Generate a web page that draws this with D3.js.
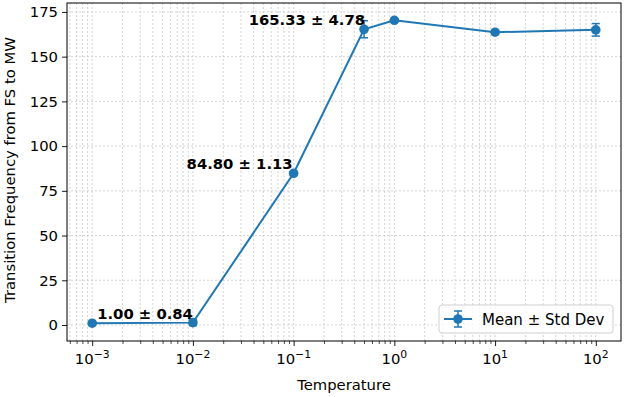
<!DOCTYPE html>
<html><head><meta charset="utf-8">
<script src="https://cdn.jsdelivr.net/npm/d3@7"></script>
<style>body{margin:0;background:#fff;} text{font-family:"DejaVu Sans",sans-serif;}</style>
</head><body>
<svg id="c" width="624" height="397"></svg>
<script>
const temperatures = [0.001, 0.01, 0.1, 0.5, 1, 10, 100];
const means = [1.00, 1.33, 84.80, 165.33, 170.33, 163.67, 165.00];
const stds = [0.84, 1.67, 1.13, 4.78, 0.94, 1.20, 3.50];
const annotatedIdx = [0, 2, 3];
const xTickExps = [-3, -2, -1, 0, 1, 2];
const yTicks = [0, 25, 50, 75, 100, 125, 150, 175];

const color = "#1f77b4";
const FS = 14.8;
const svg = d3.select("#c");
const L = 67, R = 621, T = 3, B = 341;
const x = d3.scaleLog().domain([Math.pow(10, -3.25), Math.pow(10, 2.25)]).range([L, R]);
const y = d3.scaleLinear().domain([-8.94, 180]).range([B, T]);

// grid
const minor = [];
for (let e = -4; e <= 2; e++) for (let m = 2; m <= 9; m++) { const v = m * Math.pow(10, e); if (v > x.domain()[0] && v < x.domain()[1]) minor.push(v); }
const majors = xTickExps.map(e => Math.pow(10, e));
const g = svg.append("g");
g.selectAll(".gx").data(majors.concat(minor)).enter().append("line")
  .attr("x1", d => x(d)).attr("x2", d => x(d)).attr("y1", T).attr("y2", B)
  .attr("stroke", "#c8c8c8").attr("stroke-width", 0.8).attr("stroke-dasharray", "2,2");
g.selectAll(".gy").data(yTicks).enter().append("line")
  .attr("x1", L).attr("x2", R).attr("y1", d => y(d)).attr("y2", d => y(d))
  .attr("stroke", "#c8c8c8").attr("stroke-width", 0.8).attr("stroke-dasharray", "2,2");

// axes
const xAxis = d3.axisBottom(x).tickValues(majors).tickSize(5).tickFormat("");
const xg = svg.append("g").attr("transform", `translate(0,${B})`).call(xAxis);
xg.select(".domain").remove();
xg.selectAll("line").attr("stroke", "#000").attr("stroke-width", 0.9);
const xm = svg.append("g").attr("transform", `translate(0,${B})`).call(d3.axisBottom(x).tickValues(minor).tickSize(3).tickFormat(""));
xm.select(".domain").remove();
xm.selectAll("line").attr("stroke", "#000").attr("stroke-width", 0.7);
xTickExps.forEach(e => {
  const t = svg.append("text").attr("x", x(Math.pow(10, e))).attr("y", 364).attr("text-anchor", "middle").attr("font-size", FS).attr("fill", "#000");
  t.append("tspan").text("10");
  t.append("tspan").attr("dy", -6.5).attr("font-size", 10.8).text(e < 0 ? "\u2212" + (-e) : String(e));
});
const yg = svg.append("g").attr("transform", `translate(${L},0)`).call(d3.axisLeft(y).tickValues(yTicks).tickSize(5).tickPadding(4));
yg.select(".domain").remove();
yg.selectAll("line").attr("stroke", "#000").attr("stroke-width", 0.9);
yg.selectAll("text").attr("font-size", FS).attr("fill", "#000").style("font-family", "DejaVu Sans");

svg.append("rect").attr("x", L).attr("y", T).attr("width", R - L).attr("height", B - T).attr("fill", "none").attr("stroke", "#000").attr("stroke-width", 1);

svg.append("text").attr("x", (L + R) / 2).attr("y", 390).attr("text-anchor", "middle").attr("font-size", FS).text("Temperature");
svg.append("text").attr("transform", `translate(15,${(T + B) / 2 - 2}) rotate(-90)`).attr("text-anchor", "middle").attr("font-size", FS).text("Transition Frequency from FS to MW");

// data
const data = temperatures.map((t, i) => ({ t, m: means[i], s: stds[i] }));
svg.append("path").datum(data).attr("fill", "none").attr("stroke", color).attr("stroke-width", 2)
  .attr("d", d3.line().x(d => x(d.t)).y(d => y(d.m)));
const eb = svg.append("g").selectAll("g").data(data).enter().append("g");
eb.append("line").attr("x1", d => x(d.t)).attr("x2", d => x(d.t)).attr("y1", d => y(d.m - d.s)).attr("y2", d => y(d.m + d.s)).attr("stroke", color).attr("stroke-width", 1.5);
eb.append("line").attr("x1", d => x(d.t) - 4).attr("x2", d => x(d.t) + 4).attr("y1", d => y(d.m - d.s)).attr("y2", d => y(d.m - d.s)).attr("stroke", color).attr("stroke-width", 1.5);
eb.append("line").attr("x1", d => x(d.t) - 4).attr("x2", d => x(d.t) + 4).attr("y1", d => y(d.m + d.s)).attr("y2", d => y(d.m + d.s)).attr("stroke", color).attr("stroke-width", 1.5);
eb.append("circle").attr("cx", d => x(d.t)).attr("cy", d => y(d.m)).attr("r", 4.8).attr("fill", color);

// annotations
const annStyle = { 0: { dx: 5, dy: -4, anchor: "start" }, 2: { dx: -1, dy: -4, anchor: "end" }, 3: { dx: 1, dy: -4, anchor: "end" } };
annotatedIdx.forEach(i => {
  const s = annStyle[i];
  svg.append("text").attr("x", x(temperatures[i]) + s.dx).attr("y", y(means[i]) + s.dy)
    .attr("text-anchor", s.anchor).attr("font-size", FS).attr("font-weight", "bold")
    .text(`${means[i].toFixed(2)} \u00b1 ${stds[i].toFixed(2)}`);
});

// legend
const lg = svg.append("g");
lg.append("rect").attr("x", 439).attr("y", 305).attr("width", 174).attr("height", 28).attr("rx", 3)
  .attr("fill", "#fff").attr("fill-opacity", 0.8).attr("stroke", "#d0d0d0");
lg.append("line").attr("x1", 444).attr("x2", 472).attr("y1", 319).attr("y2", 319).attr("stroke", color).attr("stroke-width", 2);
lg.append("line").attr("x1", 458).attr("x2", 458).attr("y1", 311).attr("y2", 327).attr("stroke", color).attr("stroke-width", 1.5);
lg.append("line").attr("x1", 454).attr("x2", 462).attr("y1", 311).attr("y2", 311).attr("stroke", color).attr("stroke-width", 1.5);
lg.append("line").attr("x1", 454).attr("x2", 462).attr("y1", 327).attr("y2", 327).attr("stroke", color).attr("stroke-width", 1.5);
lg.append("circle").attr("cx", 458).attr("cy", 319).attr("r", 4.8).attr("fill", color);
lg.append("text").attr("x", 482).attr("y", 324.5).attr("font-size", 15).text("Mean \u00b1 Std Dev");
</script>
</body></html>
